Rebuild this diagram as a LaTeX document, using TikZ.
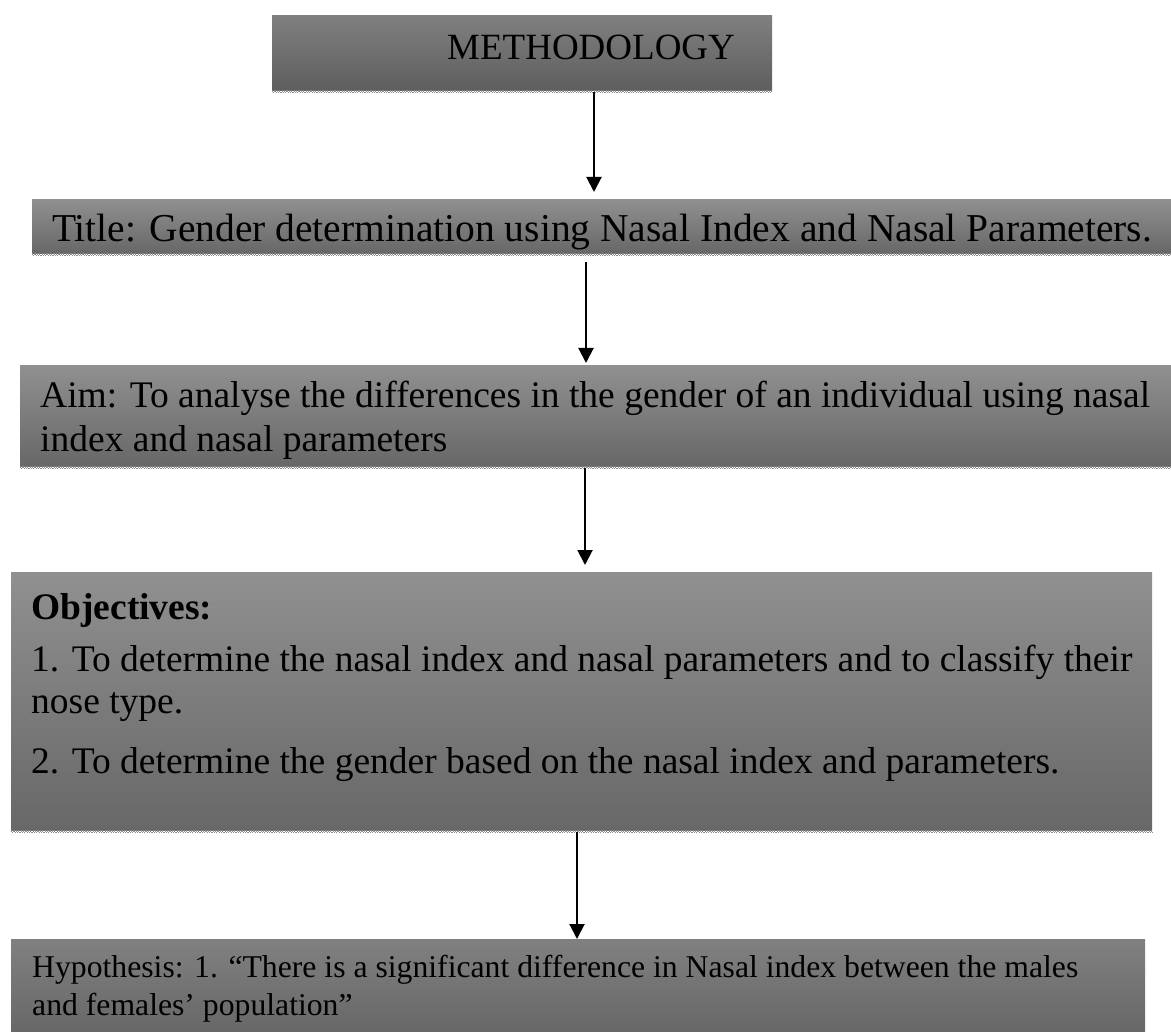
\documentclass[tikz,border=0pt]{standalone}
\usepackage{fontspec}
\setmainfont{Liberation Serif}
\usetikzlibrary{arrows.meta}
\definecolor{boxtop}{gray}{0.565}
\definecolor{boxbot}{gray}{0.405}
\definecolor{mtop}{gray}{0.50}
\definecolor{mbot}{gray}{0.37}
\begin{document}
\begin{tikzpicture}[x=1pt,y=-1pt,
  box/.style={rectangle, draw=none, inner sep=0pt, anchor=north west,
    shading=axis, top color=boxtop, bottom color=boxbot},
  darkbox/.style={box, top color=mtop, bottom color=mbot},
  lbl/.style={inner sep=0pt, anchor=base west, text=black},
  dotA/.style={draw=black!45, line width=1.4pt, dash pattern=on 1.2pt off 1.2pt},
  dotB/.style={draw=black!45, line width=1.4pt, dash pattern=on 1.2pt off 1.2pt, dash phase=1.2pt},
  arr/.style={draw=black, line width=2pt, -{Triangle[length=15pt,width=15pt]}}]
\useasboundingbox (0,0) rectangle (1171,1032);

% boxes
\node[darkbox, minimum width=500pt, minimum height=75pt] (meth) at (272,15) {};
\node[box, minimum width=1139pt, minimum height=54pt] (title) at (32,199) {};
\node[box, minimum width=1151pt, minimum height=101pt] (aim) at (20,365) {};
\node[box, minimum width=1141pt, minimum height=258pt] (obj) at (11,572) {};
\node[box, top color=gray!58!black!70, bottom color=boxbot, minimum width=1134pt, minimum height=93pt] (hyp) at (11,939) {};

% dotted bottom edges
\foreach \b in {meth,title,aim,obj}{
  \draw[dotA] ([yshift=-0.7pt]\b.south west) -- ([yshift=-0.7pt]\b.south east);
  \draw[dotB] ([yshift=-2.1pt]\b.south west) -- ([yshift=-2.1pt]\b.south east);
}

% texts
\node[lbl, font=\fontsize{37}{44}\selectfont] (methT) at (447,60) {METHODOLOGY};
\begin{scope}
  \clip (title.north west) rectangle (title.south east);
  \node[lbl, font=\fontsize{39.5}{46}\selectfont] (titleT) at (52,242) {Title: Gender determination using Nasal Index and Nasal Parameters.};
\end{scope}
\node[lbl, font=\fontsize{37.5}{44}\selectfont] (aim1) at (40,408) {Aim: To analyse the differences in the gender of an individual using nasal};
\node[lbl, font=\fontsize{37.5}{44}\selectfont] (aim2) at (40,452) {index and nasal parameters};
\node[lbl, font=\fontsize{37.5}{44}\selectfont] (obj0) at (31,619) {\bfseries Objectives:};
\node[lbl, font=\fontsize{37.5}{44}\selectfont] (obj1) at (31,671) {1. To determine the nasal index and nasal parameters and to classify their};
\node[lbl, font=\fontsize{37.5}{44}\selectfont] (obj2) at (31,713) {nose type.};
\node[lbl, font=\fontsize{37.5}{44}\selectfont] (obj3) at (31,773) {2. To determine the gender based on the nasal index and parameters.};
\node[lbl, font=\fontsize{31.7}{38}\selectfont] (hyp1) at (32,977) {Hypothesis: 1. “There is a significant difference in Nasal index between the males};
\node[lbl, font=\fontsize{31.7}{38}\selectfont] (hyp2) at (32,1015) {and females’ population”};

% connectors
\coordinate (c1) at (594,0);
\coordinate (c2) at (586,0);
\coordinate (c3) at (585,0);
\coordinate (c4) at (577,0);
\draw[arr, shorten <=2pt, shorten >=7pt] (meth.south -| c1) -- (title.north -| c1);
\draw[arr, shorten <=9pt, shorten >=2pt] (title.south -| c2) -- (aim.north -| c2);
\draw[arr, shorten <=2pt, shorten >=7pt] (aim.south -| c3) -- (obj.north -| c3);
\draw[arr, shorten <=2pt, shorten >=0pt] (obj.south -| c4) -- (hyp.north -| c4);
\end{tikzpicture}
\end{document}
